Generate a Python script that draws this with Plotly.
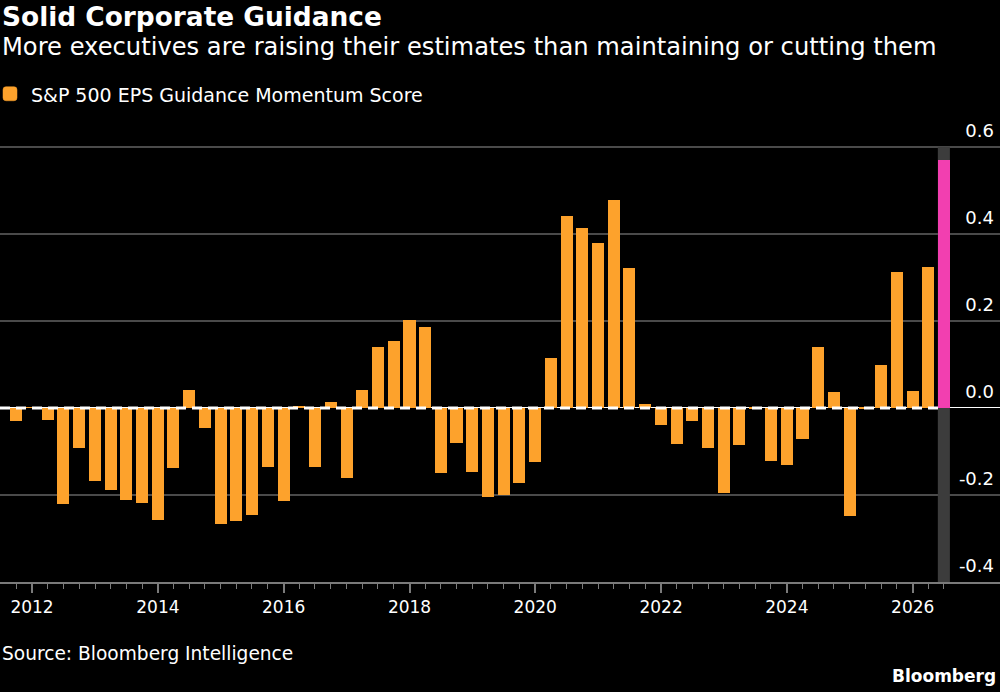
import plotly.graph_objects as go
import pandas as pd

# ---------------- data ----------------
quarters = pd.date_range("2011-10-01", "2026-07-01", freq="QS").strftime("%Y-%m-%d").tolist()
scores = [
    -0.030, 0.002, -0.028, -0.220, -0.092, -0.168, -0.189, -0.212, -0.219, -0.257,
    -0.139, 0.041, -0.045, -0.266, -0.259, -0.246, -0.136, -0.215, 0.003, -0.135,
    0.013, -0.161, 0.041, 0.139, 0.153, 0.202, 0.186, -0.150, -0.081, -0.148,
    -0.204, -0.199, -0.173, -0.125, 0.114, 0.441, 0.413, 0.380, 0.478, 0.322,
    0.010, -0.040, -0.084, -0.029, -0.093, -0.195, -0.085, -0.002, -0.122, -0.130,
    -0.071, 0.139, 0.037, -0.248, -0.003, 0.098, 0.313, 0.039, 0.323, 0.570,
]
y_tickvals = [-0.4, -0.2, 0.0, 0.2, 0.4, 0.6]
y_ticktext = ["-0.4", "-0.2", "0.0", "0.2", "0.4", "0.6"]
series_name = "S&P 500 EPS Guidance Momentum Score"
title = "Solid Corporate Guidance"
subtitle = "More executives are raising their estimates than maintaining or cutting them"
source = "Source: Bloomberg Intelligence"

# ---------------- style ----------------
W, H = 1000, 692
UNIT_PX = 434.7            # pixels per 1.0 on the y axis
Y_MIN, Y_MAX = -0.4, 0.68  # extra headroom so the top tick label stays inside
M_B = 110.3
PLOT_H = UNIT_PX * (Y_MAX - Y_MIN)
M_T = H - M_B - PLOT_H
ORANGE = "#FDA22C"
PINK = "#F23FB0"
BAND = "#3c3c3c"
GRID = "#4a4a4a"
AXIS = "#7a7a7a"
FONT = "DejaVu Sans, Verdana, sans-serif"
x_range = ["2011-06-29", "2027-05-23"]
DAY_MS = 86400000


def py(pix):
    """pixel y (from top of page) -> paper y"""
    return (H - M_B - pix) / PLOT_H


def rounded_rect(x0, x1, y0, y1, r):
    """rounded rectangle path in paper coords from pixel coords"""
    X = lambda p: p / W
    Y = py
    return (f"M {X(x0 + r)},{Y(y0)} L {X(x1 - r)},{Y(y0)} Q {X(x1)},{Y(y0)} {X(x1)},{Y(y0 + r)} "
            f"L {X(x1)},{Y(y1 - r)} Q {X(x1)},{Y(y1)} {X(x1 - r)},{Y(y1)} "
            f"L {X(x0 + r)},{Y(y1)} Q {X(x0)},{Y(y1)} {X(x0)},{Y(y1 - r)} "
            f"L {X(x0)},{Y(y0 + r)} Q {X(x0)},{Y(y0)} {X(x0 + r)},{Y(y0)} Z")


colors = [ORANGE] * (len(scores) - 1) + [PINK]

fig = go.Figure()
fig.add_trace(go.Bar(
    x=quarters, y=scores, marker=dict(color=colors, line=dict(width=0)),
    width=70 * DAY_MS, name=series_name, showlegend=False,
))

last = pd.Timestamp(quarters[-1])
shapes = [
    # highlight band behind the latest bar
    dict(type="rect", xref="x", yref="y",
         x0=(last - pd.Timedelta(days=35)).strftime("%Y-%m-%d"),
         x1=(last + pd.Timedelta(days=35)).strftime("%Y-%m-%d"),
         y0=y_tickvals[0], y1=y_tickvals[-1], fillcolor=BAND, line=dict(width=0), layer="between"),
    # dashed zero line
    dict(type="line", xref="x", yref="y", x0=x_range[0], x1=quarters[-1], y0=0, y1=0,
         line=dict(color="white", width=3, dash="10px,6px"), layer="above"),
    # legend swatch (rounded square)
    dict(type="path", xref="paper", yref="paper", path=rounded_rect(3, 17, 87, 101, 3),
         fillcolor=ORANGE, line=dict(color=ORANGE, width=0.5)),
]

annotations = [
    dict(text="<b>" + title + "</b>", x=0, y=py(17), xanchor="left", yanchor="middle",
         font=dict(size=26.4, color="white", family=FONT)),
    dict(text=subtitle, x=0, y=py(47), xanchor="left", yanchor="middle",
         font=dict(size=24.2, color="white", family=FONT)),
    dict(text=series_name, x=29 / W, y=py(95), xanchor="left", yanchor="middle",
         font=dict(size=19, color="white", family=FONT)),
    dict(text=source, x=0, y=py(653), xanchor="left", yanchor="middle",
         font=dict(size=18.6, color="white", family=FONT)),
    dict(text="<b>Bloomberg</b>", x=998 / W, y=py(676), xanchor="right", yanchor="middle",
         font=dict(size=17, color="white", family=FONT)),
]
for a in annotations:
    a.update(xref="paper", yref="paper", showarrow=False)

fig.update_layout(
    width=W, height=H,
    margin=dict(l=0, r=0, t=M_T, b=M_B, pad=0),
    paper_bgcolor="black", plot_bgcolor="black",
    font=dict(family=FONT, color="white"),
    bargap=0,
    shapes=shapes, annotations=annotations,
    xaxis=dict(
        type="date", range=x_range,
        tick0="2012-01-01", dtick="M24", tickformat="%Y",
        ticks="outside", ticklen=9, tickwidth=1.5, tickcolor=AXIS,
        showline=True, linecolor=AXIS, linewidth=1.5,
        showgrid=False, zeroline=False,
        tickfont=dict(size=17, color="white", family=FONT),
        minor=dict(tickmode="array", tickvals=quarters, ticks="outside", ticklen=5,
                   tickwidth=1, tickcolor=AXIS, showgrid=False),
        fixedrange=True,
    ),
    yaxis=dict(
        range=[Y_MIN, Y_MAX], side="right",
        tickmode="array", tickvals=y_tickvals, ticktext=y_ticktext,
        ticklabelposition="inside", ticklabelshift=-16, ticklabelstandoff=3,
        ticks="", showgrid=True, gridcolor=GRID, gridwidth=1.5,
        zeroline=True, zerolinecolor="white", zerolinewidth=1,
        showline=False,
        tickfont=dict(size=18, color="white", family=FONT),
        fixedrange=True,
    ),
)

fig.write_html("out.html")
